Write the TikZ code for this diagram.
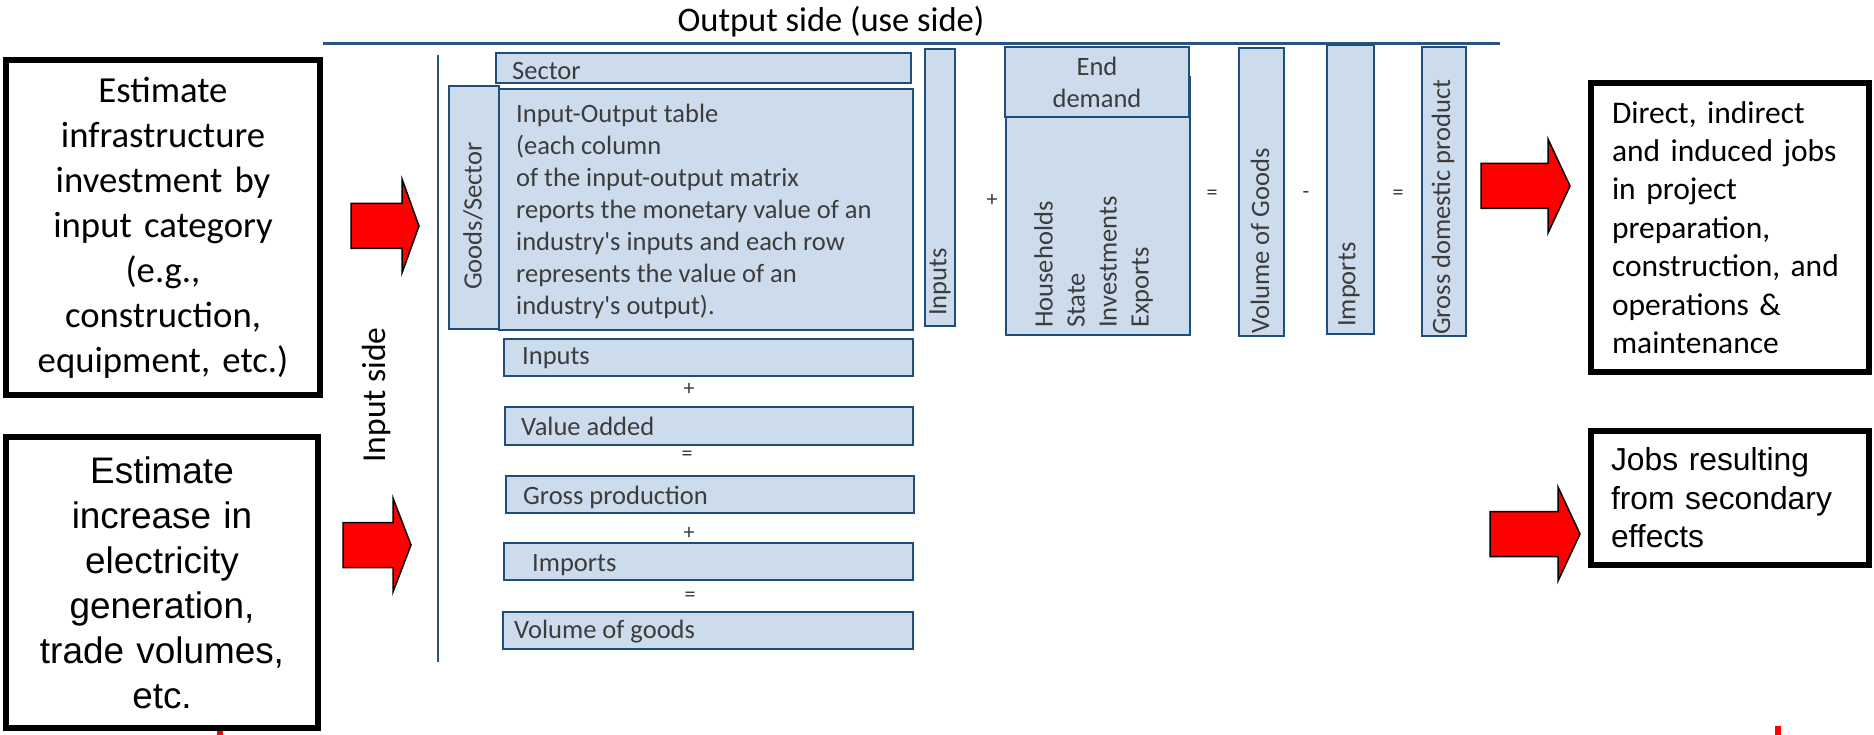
\documentclass[tikz,border=0pt]{standalone}
\usepackage{fontspec}
\setmainfont{Carlito}
\newfontfamily\arialfont{Liberation Sans}
\usetikzlibrary{positioning}

\definecolor{boxfill}{HTML}{CCDCEC}
\definecolor{boxline}{HTML}{1F4E79}
\definecolor{axisblue}{HTML}{2B5380}
\definecolor{iogray}{HTML}{3C3C3C}

\tikzset{
	iobox/.style={draw=boxline, fill=boxfill, line width=2pt, inner sep=0pt, outer sep=0pt, anchor=north west},
	iotext/.style={text=iogray, font=\fontsize{26.5}{32}\selectfont, inner sep=0pt},
	opsign/.style={text=iogray, font=\fontsize{22}{26}\selectfont, inner sep=0pt},
	estbox/.style={draw=black, line width=6pt, fill=white, align=center, inner sep=0pt},
	jobbox/.style={draw=black, line width=6pt, fill=white, align=left, anchor=north west, outer sep=0pt, inner xsep=21pt, inner ysep=0pt},
	arrowbody/.style={draw=black, line width=1.5pt, fill=red},
	pics/redarrow/.style args={#1/#2}{code={
		\draw[arrowbody] (0,-22.5) -- (#1,-22.5) -- (#1,-47) -- (#1+#2,0) -- (#1,47) -- (#1,22.5) -- (0,22.5) -- cycle;
	}}
}

\begin{document}
\begin{tikzpicture}[x=1pt, y=-1pt]
		\useasboundingbox (0,0) rectangle (1874,735);
\fill[white] (0,0) rectangle (1874,735);

\coordinate (T0) at (323,44);
\coordinate (T1) at (1500,44);
\coordinate (L0) at (438,55);
\coordinate (L1) at (438,662);

\draw[axisblue, line width=3pt] (T0) -- (T1);
\draw[axisblue, line width=2pt] (L0) -- (L1);
\node[font=\fontsize{34.5}{40}\selectfont, inner sep=0pt] (outside) at (831,22) {Output side (use side)};
\node[font=\fontsize{33.5}{40}\selectfont, inner sep=0pt, rotate=90] (inside) at (377,395) {Input side};

\node[estbox, minimum width=314pt, minimum height=335pt, text width=306pt, font=\fontsize{36.7}{45}\selectfont] (invest) at (163,227.5) {Estimate\\infrastructure\\investment by\\input category\\(e.g.,\\construction,\\equipment, etc.)};
\node[estbox, minimum width=312pt, minimum height=291pt, text width=300pt, font=\arialfont\fontsize{36.9}{45}\selectfont] (elec) at (162,582.5) {Estimate\\increase in\\electricity\\generation,\\trade volumes,\\etc.};

\node[jobbox, minimum height=289pt, text width=236pt, font=\fontsize{31.5}{38.4}\selectfont] (jobs) at (1591,83) {Direct, indirect\\and induced jobs\\in project\\preparation,\\construction, and\\operations \&\\maintenance};
\node[jobbox, minimum height=134pt, text width=238pt, inner xsep=20pt, font=\arialfont\fontsize{31.8}{38.5}\selectfont] (secjobs) at (1591,431) {Jobs resulting\\from secondary\\effects};

\node[iobox, minimum width=415pt, minimum height=30pt] (sector) at (496,53) {};
\node[iotext, anchor=west] (sectorlbl) at (512,71) {Sector};
\node[iobox, minimum width=50pt, minimum height=243pt] (goods) at (449,86) {};
\node[iotext, rotate=90, anchor=west] (goodslbl) at (473,290) {Goods/Sector};
\node[iobox, minimum width=414pt, minimum height=241pt] (iotab) at (499,89) {};
\node[iotext, align=left, anchor=north west] (iotablbl) at (516,104) {Input-Output table\\(each column\\of the input-output matrix\\reports the monetary value of an\\industry\textquotesingle s inputs and each row\\represents the value of an\\industry\textquotesingle s output).};

\node[iobox, minimum width=409pt, minimum height=37pt] (rinputs) at (504,339) {};
\node[iotext, anchor=base west] (rinputslbl) at (522,364) {Inputs};
\node[opsign] (plusA) at (689,389) {+};
\node[iobox, minimum width=408pt, minimum height=38pt] (rvalue) at (505,407) {};
\node[iotext, anchor=base west] (rvaluelbl) at (521,435) {Value added};
\node[opsign] (eqA) at (687,456) {=};
\node[iobox, minimum width=408pt, minimum height=37pt] (rgross) at (506,476) {};
\node[iotext, anchor=base west] (rgrosslbl) at (523,504) {Gross production};
\node[opsign] (plusB) at (689,533) {+};
\node[iobox, minimum width=409pt, minimum height=37pt] (rimports) at (504,543) {};
\node[iotext, anchor=base west] (rimportslbl) at (532,571) {Imports};
\node[opsign] (eqB) at (690,597) {=};
\node[iobox, minimum width=410pt, minimum height=37pt] (rvolume) at (503,612) {};
\node[iotext, anchor=base west] (rvolumelbl) at (514,638) {Volume of goods};

\node[iobox, minimum width=30pt, minimum height=277pt] (inputscol) at (925,49) {};
\node[iotext, rotate=90, anchor=west] (inputscollbl) at (940,316) {Inputs};
\node[opsign] (plusC) at (992,200) {+};
\node[iobox, minimum width=184pt, minimum height=258pt] (endbody) at (1006,77) {};
\node[iobox, iotext, minimum width=184pt, minimum height=70pt, align=center] (endhead) at (1005,47) {End\\demand};
\node[iotext, rotate=90, align=left, anchor=north west] (endlbl) at (1034,328) {Households\\State\\Investments\\Exports};
\node[opsign] (eqC) at (1212,195) {=};
\node[iobox, minimum width=45pt, minimum height=288pt] (volcol) at (1239,48) {};
\node[iotext, rotate=90, anchor=west] (volcollbl) at (1260,334) {Volume of Goods};
\node[opsign] (minusA) at (1306,195) {-};
\node[iobox, minimum width=47pt, minimum height=289pt] (impcol) at (1327,45) {};
\node[iotext, rotate=90, anchor=west] (impcollbl) at (1349,327) {Imports};
\node[opsign] (eqD) at (1398,195) {=};
\node[iobox, minimum width=44pt, minimum height=289pt] (gdpcol) at (1422,47) {};
\node[iotext, rotate=90, anchor=west] (gdpcollbl) at (1443,335) {Gross domestic product};

\pic at (351,226) {redarrow=51/17};
\pic at (343,545) {redarrow=50/18};
\pic at (1481,186) {redarrow=67/22};
\pic at (1490,534) {redarrow=68/22};

\fill[red] (217,731) rectangle (223,735);
\fill[red] (1775,726) rectangle (1781,735);
	\end{tikzpicture}
\end{document}
